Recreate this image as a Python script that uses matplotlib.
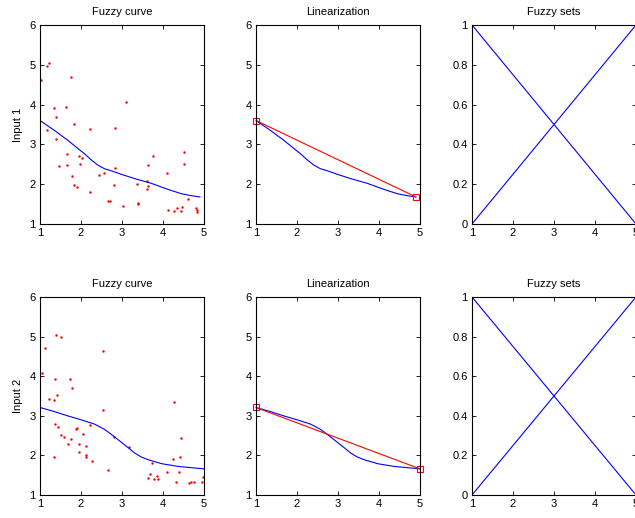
import numpy as np
import matplotlib
matplotlib.use("Agg")
import matplotlib.pyplot as plt

plt.rcParams['font.family'] = ['Liberation Sans', 'DejaVu Sans']
plt.rcParams['font.size'] = 8

# ---- Input 1 data ----
in1_x = [1.03, 1.17, 1.23, 1.76, 1.33, 1.64, 1.39, 1.83, 1.16, 1.38, 2.21, 2.83,
         3.10, 1.65, 1.95, 2.02, 1.47, 1.66, 1.98, 1.79, 1.83, 1.91, 2.23, 2.44,
         2.57, 2.82, 2.80, 2.66, 2.71, 3.03, 3.36, 3.38, 3.40, 3.60, 3.61, 3.64,
         3.64, 3.75, 4.09, 4.13, 4.27, 4.34, 4.43, 4.46, 4.50, 4.50, 4.61, 4.81,
         4.83, 4.84]
in1_y = [4.62, 4.98, 5.05, 4.70, 3.91, 3.93, 3.70, 3.51, 3.35, 3.14, 3.39, 3.42,
         4.07, 2.75, 2.70, 2.66, 2.45, 2.47, 2.52, 2.21, 1.98, 1.92, 1.80, 2.23,
         2.29, 2.41, 1.98, 1.57, 1.59, 1.44, 2.00, 1.53, 1.49, 2.08, 1.87, 1.95,
         2.47, 2.71, 2.27, 1.34, 1.32, 1.40, 1.32, 1.42, 2.80, 2.51, 1.63, 1.40,
         1.34, 1.30]
curve1_x = [1.00, 1.34, 1.67, 1.92, 2.08, 2.24, 2.41, 2.57, 2.73, 2.98, 3.31,
            3.72, 4.12, 4.45, 4.70, 4.90]
curve1_y = [3.60, 3.36, 3.11, 2.90, 2.77, 2.62, 2.48, 2.39, 2.34, 2.25, 2.14,
            2.02, 1.87, 1.76, 1.71, 1.68]

# ---- Input 2 data ----
in2_x = [1.04, 1.11, 1.40, 1.51, 2.54, 1.37, 1.74, 1.79, 1.23, 1.33, 1.42, 2.54,
         4.28, 1.36, 1.44, 1.88, 1.90, 2.22, 2.04, 1.51, 1.59, 1.76, 1.69, 1.96,
         2.11, 2.80, 3.16, 4.43, 1.94, 1.33, 2.11, 2.12, 2.26, 2.67, 4.24, 4.42,
         3.73, 4.09, 3.68, 3.64, 3.78, 3.86, 3.89, 4.31, 4.40, 4.64, 4.69, 4.75,
         4.95, 4.97]
in2_y = [4.08, 4.71, 5.05, 4.98, 4.64, 3.94, 3.92, 3.71, 3.43, 3.39, 3.52, 3.15,
         3.35, 2.80, 2.71, 2.66, 2.70, 2.76, 2.53, 2.52, 2.46, 2.41, 2.29, 2.30,
         2.23, 2.47, 2.20, 2.45, 2.08, 1.97, 2.00, 1.96, 1.87, 1.64, 1.92, 1.97,
         1.81, 1.59, 1.52, 1.42, 1.40, 1.48, 1.40, 1.34, 1.57, 1.31, 1.33, 1.34,
         1.32, 1.45]
curve2_x = [1.00, 1.34, 1.67, 2.00, 2.33, 2.57, 2.74, 2.90, 3.06, 3.31, 3.47,
            3.64, 3.97, 4.38, 5.00]
curve2_y = [3.21, 3.11, 3.00, 2.90, 2.79, 2.66, 2.53, 2.40, 2.27, 2.06, 1.96,
            1.89, 1.79, 1.72, 1.66]

# Membership functions of the two fuzzy sets on [1, 5]
set_x = [1, 5]
set_low = [1, 0]
set_high = [0, 1]

rows = [
    ("Input 1", in1_x, in1_y, curve1_x, curve1_y),
    ("Input 2", in2_x, in2_y, curve2_x, curve2_y),
]

W, H = 635, 518
fig = plt.figure(figsize=(W / 100, H / 100), dpi=100)

lefts = [40, 256, 472]
axw = 164
row_boxes = [(25, 224), (297, 495)]


def style(ax):
    ax.tick_params(direction='in', top=True, right=True, length=3, width=0.6,
                   pad=3, labelsize=8)
    for s in ax.spines.values():
        s.set_linewidth(0.8)


for (label, sx, sy, cx, cy), (top, bot) in zip(rows, row_boxes):
    axes = []
    for L in lefts:
        ax = fig.add_axes([L / W, 1 - bot / H, axw / W, (bot - top) / H])
        style(ax)
        axes.append(ax)

    a0, a1, a2 = axes
    # Fuzzy curve with the raw samples
    a0.plot(sx, sy, '.', color='red', ms=3.5, mew=0)
    a0.plot(cx, cy, '-', color='blue', lw=0.8)
    a0.set_xlim(1, 5)
    a0.set_ylim(1, 6)
    a0.set_xticks([1, 2, 3, 4, 5])
    a0.set_yticks([1, 2, 3, 4, 5, 6])
    a0.set_title("Fuzzy curve", fontsize=8, pad=7.5)
    a0.set_ylabel(label, fontsize=8, labelpad=5)

    # Straight line through the end points of the fuzzy curve
    a1.plot(cx, cy, '-', color='blue', lw=0.8)
    a1.plot([cx[0], cx[-1]], [cy[0], cy[-1]], '-', color='red', lw=0.8,
            marker='s', ms=5, mfc='none', mec='red', mew=0.8, clip_on=False)
    a1.set_xlim(1, 5)
    a1.set_ylim(1, 6)
    a1.set_xticks([1, 2, 3, 4, 5])
    a1.set_yticks([1, 2, 3, 4, 5, 6])
    a1.set_title("Linearization", fontsize=8, pad=7.5)

    # Two linear fuzzy sets
    a2.plot(set_x, set_low, '-', color='blue', lw=0.8)
    a2.plot(set_x, set_high, '-', color='blue', lw=0.8)
    a2.set_xlim(1, 5)
    a2.set_ylim(0, 1)
    a2.set_xticks([1, 2, 3, 4, 5])
    a2.set_yticks([0, 0.2, 0.4, 0.6, 0.8, 1])
    a2.set_yticklabels(["0", "0.2", "0.4", "0.6", "0.8", "1"])
    a2.set_title("Fuzzy sets", fontsize=8, pad=7.5)

fig.savefig("out.png", dpi=100)
